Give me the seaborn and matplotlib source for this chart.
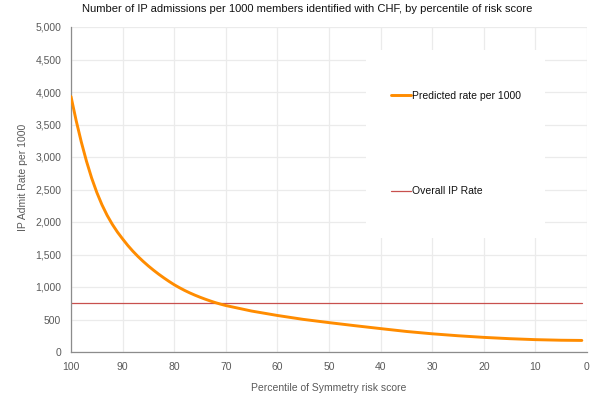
import matplotlib
matplotlib.use("Agg")
import matplotlib.pyplot as plt
from matplotlib.patches import Rectangle
import seaborn as sns
import pandas as pd

percentile = [100, 99, 98, 97, 96, 95, 94, 93, 92, 91, 90, 89, 88, 87, 86, 85, 84, 83, 82,
              81, 80, 79, 78, 77, 76, 75, 74, 73, 72, 71, 70, 65, 60, 55, 50, 45, 40, 35,
              30, 25, 20, 15, 10, 5, 1]
predicted_rate = [3930, 3560, 3230, 2935, 2677, 2455, 2265, 2103, 1965, 1845, 1740, 1640,
                  1550, 1468, 1393, 1323, 1258, 1197, 1140, 1086, 1035, 990, 948, 910, 875,
                  843, 813, 785, 759, 736, 715, 630, 562, 502, 452, 405, 360, 316, 280, 250,
                  225, 205, 190, 181, 178]
overall_rate = 750
x_ticks = [100, 90, 80, 70, 60, 50, 40, 30, 20, 10, 0]
y_ticks = [0, 500, 1000, 1500, 2000, 2500, 3000, 3500, 4000, 4500, 5000]

title = "Number of IP admissions per 1000 members identified with CHF, by percentile of risk score"
x_label = "Percentile of Symmetry risk score"
y_label = "IP Admit Rate per 1000"
series_names = ["Predicted rate per 1000", "Overall IP Rate"]

df_pred = pd.DataFrame({"pct": percentile, "rate": predicted_rate})
df_overall = pd.DataFrame({"pct": [percentile[0], percentile[-1]],
                           "rate": [overall_rate, overall_rate]})

sns.set_theme(style="white")
plt.rcParams["font.family"] = ["Liberation Sans", "DejaVu Sans"]

W, H = 607, 396
fig = plt.figure(figsize=(W / 100, H / 100), dpi=100)
left, right, top, bottom = 71, 587, 27, 352
aw, ah = right - left, bottom - top
ax = fig.add_axes([left / W, 1 - bottom / H, aw / W, ah / H])

sns.lineplot(data=df_pred, x="pct", y="rate", ax=ax, color="#FF8C00", linewidth=2.1,
             label=series_names[0], zorder=3)
sns.lineplot(data=df_overall, x="pct", y="rate", ax=ax, color="#C8504E", linewidth=0.9,
             label=series_names[1], zorder=2.5)

ax.set_xlim(100, 0)
ax.set_ylim(0, 5000)
ax.set_xticks(x_ticks)
ax.set_yticks(y_ticks)
ax.set_yticklabels([f"{v:,}" for v in y_ticks])
ax.grid(True, color="#ebebeb", linewidth=0.9)
ax.set_axisbelow(True)

for s in ["top", "right"]:
    ax.spines[s].set_visible(False)
for s in ["left", "bottom"]:
    ax.spines[s].set_color("#8c8c8c")
    ax.spines[s].set_linewidth(0.9)

ax.tick_params(axis="both", colors="#8c8c8c", labelcolor="#5a5a5a", labelsize=7.5,
               length=4, width=0.8, direction="out", pad=3)
ax.set_xlabel(x_label, fontsize=7.5, color="#5a5a5a", labelpad=8)
ax.set_ylabel(y_label, fontsize=7.5, color="#5a5a5a")
ax.yaxis.set_label_coords((28 - left) / aw, (bottom - 177) / ah)

# white legend panel
bx0, bx1, by0, by1 = 366, 545, 50, 238
ax.add_patch(Rectangle(((bx0 - left) / aw, (bottom - by1) / ah), (bx1 - bx0) / aw,
                       (by1 - by0) / ah, transform=ax.transAxes, facecolor="white",
                       edgecolor="none", zorder=1))

leg = ax.legend(loc="upper left", bbox_to_anchor=((391 - left) / aw, (bottom - 91) / ah),
                borderaxespad=0, borderpad=0, frameon=False, fontsize=7.5,
                labelspacing=8.18, handlelength=1.92, handletextpad=0.12)
for t in leg.get_texts():
    t.set_color("#111111")

fig.text(307 / W, 1 - 9 / H, title, ha="center", va="center", fontsize=8, color="#111111")

fig.savefig("out.png", dpi=100, facecolor="white")
